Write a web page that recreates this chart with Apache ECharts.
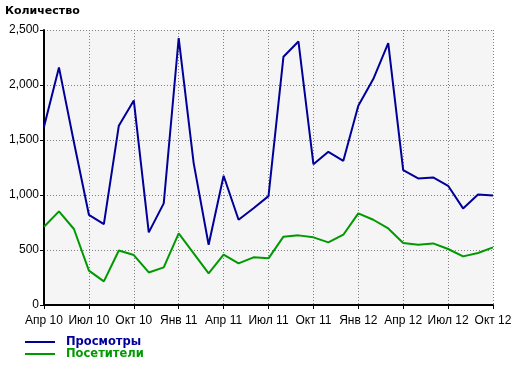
<!DOCTYPE html>
<html><head><meta charset="utf-8">
<script src="https://cdn.jsdelivr.net/npm/echarts@6/dist/echarts.min.js"></script>
<style>html,body{margin:0;padding:0;background:#fff}#c{width:520px;height:366px}</style>
</head><body><div id="c"></div>
<script>
var months = ["Апр 10","Май 10","Июн 10","Июл 10","Авг 10","Сен 10","Окт 10","Ноя 10","Дек 10",
  "Янв 11","Фев 11","Мар 11","Апр 11","Май 11","Июн 11","Июл 11","Авг 11","Сен 11","Окт 11","Ноя 11","Дек 11",
  "Янв 12","Фев 12","Мар 12","Апр 12","Май 12","Июн 12","Июл 12","Авг 12","Сен 12","Окт 12"];
var views = [1620,2160,1480,820,736,1630,1860,660,924,2427,1290,548,1175,775,880,990,2257,2396,1280,1393,1311,1812,2054,2381,1227,1151,1160,1084,878,1005,996];
var visitors = [712,851,691,312,215,496,454,296,342,651,470,287,457,378,433,424,621,633,615,569,639,833,775,696,564,548,560,509,442,473,524];
var yTicks = {min:0, max:2500, interval:500};
var titleText = "Количество";
var seriesNames = ["Просмотры","Посетители"];
var colors = ["#000099","#009900"];

var chart = echarts.init(document.getElementById('c'), null, {renderer:'canvas'});
var dotted = {color:'#808080', width:1, type:[1,2]};
function legendFor(i, top){
  return {orient:'horizontal', left:25, top:top, padding:0, itemWidth:30, itemHeight:2, icon:'rect',
    data:[{name:seriesNames[i], textStyle:{color:colors[i]}}],
    textStyle:{fontFamily:'DejaVu Sans', fontSize:11.5, fontWeight:'bold', padding:[0,0,0,6]}};
}
chart.setOption({
  animation:false,
  title:{text:titleText, left:5, top:6, padding:0, textStyle:{fontFamily:'DejaVu Sans', fontSize:11, fontWeight:'bold', color:'#000'}},
  legend:[legendFor(0, 336), legendFor(1, 348)],
  grid:{left:44, right:27, top:30, bottom:61, show:true, backgroundColor:'#f5f5f5', borderWidth:0},
  xAxis:{type:'category', data:months, boundaryGap:false,
    axisLine:{lineStyle:{color:'#000', width:2}},
    axisTick:{show:true, interval:2, length:4, lineStyle:{color:'#000', width:1}},
    axisLabel:{interval:2, color:'#000', fontFamily:'Liberation Sans', fontSize:12, margin:10, showMaxLabel:true},
    splitLine:{show:true, interval:2, lineStyle:dotted}},
  yAxis:{type:'value', min:yTicks.min, max:yTicks.max, interval:yTicks.interval,
    axisLine:{show:true, lineStyle:{color:'#000', width:2}},
    axisTick:{show:true, length:4, lineStyle:{color:'#000'}},
    axisLabel:{color:'#000', fontFamily:'Liberation Sans', fontSize:12, margin:5},
    splitLine:{show:true, lineStyle:dotted}},
  series:[
    {name:seriesNames[0], type:'line', data:views, symbol:'none', lineStyle:{color:colors[0], width:2}, itemStyle:{color:colors[0]}, z:3},
    {name:seriesNames[1], type:'line', data:visitors, symbol:'none', lineStyle:{color:colors[1], width:2}, itemStyle:{color:colors[1]}, z:2}
  ]
});
</script></body></html>
